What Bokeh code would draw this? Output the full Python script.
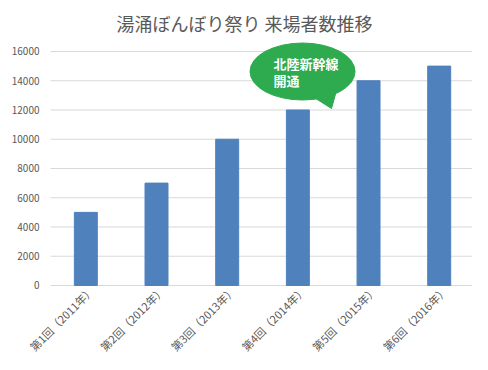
import math
from bokeh.plotting import figure
from bokeh.models import Range1d, FixedTicker, Label, ColumnDataSource
from bokeh.core.properties import value
from bokeh.embed import file_html
from bokeh.resources import INLINE

title = "湯涌ぼんぼり祭り 来場者数推移"
categories = ["第1回（2011年）", "第2回（2012年）", "第3回（2013年）",
              "第4回（2014年）", "第5回（2015年）", "第6回（2016年）"]
visitors = [5000, 7000, 10000, 12000, 14000, 15000]
y_ticks = [0, 2000, 4000, 6000, 8000, 10000, 12000, 14000, 16000]
callout_lines = ["北陸新幹線", "開通"]

FONT = "Noto Sans CJK JP"
GREY = "#595959"
positions = list(range(1, len(categories) + 1))
x_lo, x_hi = 0.5, len(categories) + 0.5

# The frame spans the whole canvas; the value axis maps 0..16000 onto the
# middle part, leaving room for the title above and the rotated labels below,
# and the category band starts after room for the value labels on the left.
p = figure(width=472, height=354, output_backend="svg", toolbar_location=None,
           x_range=Range1d(-0.2075, 6.471), y_range=Range1d(-4718, 19487),
           min_border_left=0, min_border_right=0, min_border_top=0,
           min_border_bottom=0)
p.outline_line_color = None
p.background_fill_color = "white"
p.border_fill_color = "white"

# horizontal gridlines across the category band only
p.xgrid.grid_line_color = None
p.ygrid.grid_line_color = None
p.segment(x0=[x_lo] * len(y_ticks), x1=[x_hi] * len(y_ticks),
          y0=y_ticks, y1=y_ticks, line_color="#D9D9D9", line_width=1)

src = ColumnDataSource(dict(x=positions, top=visitors))
p.vbar(x="x", top="top", width=0.325, source=src, color="#4F81BD")

# y axis placed at the left edge of the category band
p.yaxis.fixed_location = x_lo
p.yaxis.ticker = FixedTicker(ticks=y_ticks)
p.yaxis.axis_line_color = None
p.yaxis.major_tick_line_color = None
p.yaxis.minor_tick_line_color = None
p.yaxis.major_tick_out = 0
p.yaxis.major_tick_in = 0
p.yaxis.major_label_standoff = 11
p.yaxis.major_label_text_font = FONT
p.yaxis.major_label_text_font_size = "10px"
p.yaxis.major_label_text_color = GREY

# category labels, rotated 45 degrees, ending just under each bar
p.xaxis.visible = False
for pos, cat in zip(positions, categories):
    p.add_layout(Label(x=pos, y=-170, x_offset=6, text=cat,
                       angle=math.pi / 4, text_align="right",
                       text_baseline="middle", text_font=FONT,
                       text_font_size="11px", text_color=GREY))

# callout (speech bubble) near the 2015 bar
GREEN = "#2EAA4F"
p.ellipse(x=[4.066], y=[14632], width=105, height=57,
          width_units="screen", height_units="screen",
          fill_color=GREEN, line_color=GREEN)
p.patch(x=[4.207, 4.547, 4.476], y=[12923, 13333, 12103],
        fill_color=GREEN, line_color=GREEN)
p.text(x=[3.656, 3.656], y=[15180, 14017], text=callout_lines,
       text_font=value(FONT), text_font_style="bold", text_font_size="13px",
       text_color="white", text_baseline="middle", text_align="left")

# title
p.add_layout(Label(x=244, y=332, x_units="screen", y_units="screen", text=title,
                   text_font=FONT, text_font_size="18px", text_color=GREY,
                   text_align="center", text_baseline="middle"))

open("out.html", "w").write(file_html(p, INLINE))
